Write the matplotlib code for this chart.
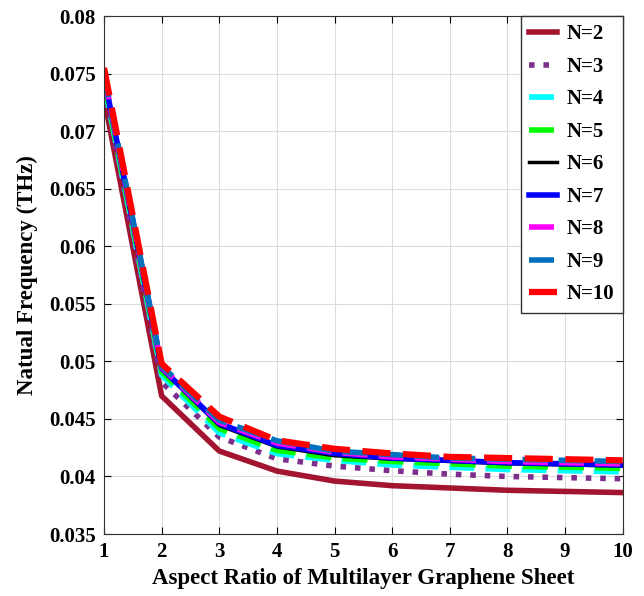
import numpy as np
import matplotlib
matplotlib.use('Agg')
import matplotlib.pyplot as plt

plt.rcParams['font.family'] = ['Liberation Serif', 'DejaVu Serif']
plt.rcParams['font.weight'] = 'bold'

# relacion de aspecto
ar = [1, 2, 3, 4, 5, 6, 7, 8, 9, 10]

# frecuencias (THz) por numero de capas
f2 = [0.0729, 0.0470, 0.04221, 0.04047, 0.0396, 0.0392, 0.0390, 0.0388, 0.0387, 0.0386]
f3 = [0.0738, 0.0482, 0.04343, 0.04154, 0.0409, 0.0405, 0.0402, 0.0400, 0.0399, 0.0398]
f4 = [0.0742, 0.0488, 0.04378, 0.04198, 0.0414, 0.0410, 0.0408, 0.0406, 0.0405, 0.0404]
f5 = [0.0744, 0.0491, 0.04416, 0.04227, 0.0416, 0.0413, 0.0411, 0.0409, 0.0408, 0.0407]
f6 = [0.0746, 0.0493, 0.04442, 0.04256, 0.0418, 0.0415, 0.0413, 0.0411, 0.0410, 0.0409]
f7 = [0.0748, 0.0494, 0.04460, 0.04270, 0.0420, 0.0416, 0.0414, 0.0412, 0.0411, 0.0410]
f8 = [0.0749, 0.0495, 0.04470, 0.04290, 0.0421, 0.0417, 0.0415, 0.0413, 0.0412, 0.0411]
f9 = [0.0751, 0.0496, 0.04488, 0.04310, 0.0422, 0.0419, 0.0416, 0.0415, 0.0414, 0.0413]
f10 = [0.0755, 0.0498, 0.04520, 0.04314, 0.0424, 0.0420, 0.0417, 0.0416, 0.0415, 0.0414]

series = [f2, f3, f4, f5, f6, f7, f8, f9, f10]
nombres = ['N=2', 'N=3', 'N=4', 'N=5', 'N=6', 'N=7', 'N=8', 'N=9', 'N=10']

estilos = [
    dict(color='#A2142F', lw=4, ls='-'),
    dict(color='#7E2F8E', lw=4, dashes=(1, 1.6)),
    dict(color='#00FFFF', lw=4, dashes=(4.5, 2)),
    dict(color='#00FF00', lw=4, dashes=(4.5, 2)),
    dict(color='black', lw=2.5, ls='-'),
    dict(color='#0000FF', lw=4, ls='-'),
    dict(color='#FF00FF', lw=4, dashes=(4.5, 2)),
    dict(color='#0072BD', lw=4, dashes=(4.5, 2)),
    dict(color='#FF0000', lw=4.5, dashes=(4.5, 2)),
]

fig = plt.figure(figsize=(6.44, 5.96), dpi=100)
ax = fig.add_axes([0.1615, 0.104, 0.8055, 0.869])

for y, nom, st in zip(series, nombres, estilos):
    if 'dashes' in st:
        ax.plot(ar, y, color=st['color'], lw=st['lw'], dashes=st['dashes'],
                dash_capstyle='butt', label=nom)
    else:
        ax.plot(ar, y, color=st['color'], lw=st['lw'], ls=st['ls'], label=nom)

ax.set_xlim(1, 10)
ax.set_ylim(0.035, 0.08)
ax.set_xticks(range(1, 11))
ax.set_yticks(np.arange(0.035, 0.0801, 0.005))
ax.set_yticklabels(['0.035', '0.04', '0.045', '0.05', '0.055', '0.06',
                    '0.065', '0.07', '0.075', '0.08'])
ax.grid(True, color='#dcdcdc', lw=0.8)
ax.tick_params(direction='in', top=True, right=True, labelsize=15, length=5, pad=6)
for s in ax.spines.values():
    s.set_color('#333333')

ax.set_xlabel('Aspect Ratio of Multilayer Graphene Sheet', fontsize=16.5,
              fontweight='bold', labelpad=4)
ax.set_ylabel('Natual Frequency (THz)', fontsize=16.5, fontweight='bold', labelpad=8)

leg = ax.legend(loc='upper right', fontsize=15, handlelength=1.35, borderaxespad=0,
                labelspacing=0.6, fancybox=False, framealpha=1, edgecolor='#333333',
                borderpad=0.4, handletextpad=0.45)
leg.get_frame().set_linewidth(1)

fig.savefig('out.png', dpi=100)
